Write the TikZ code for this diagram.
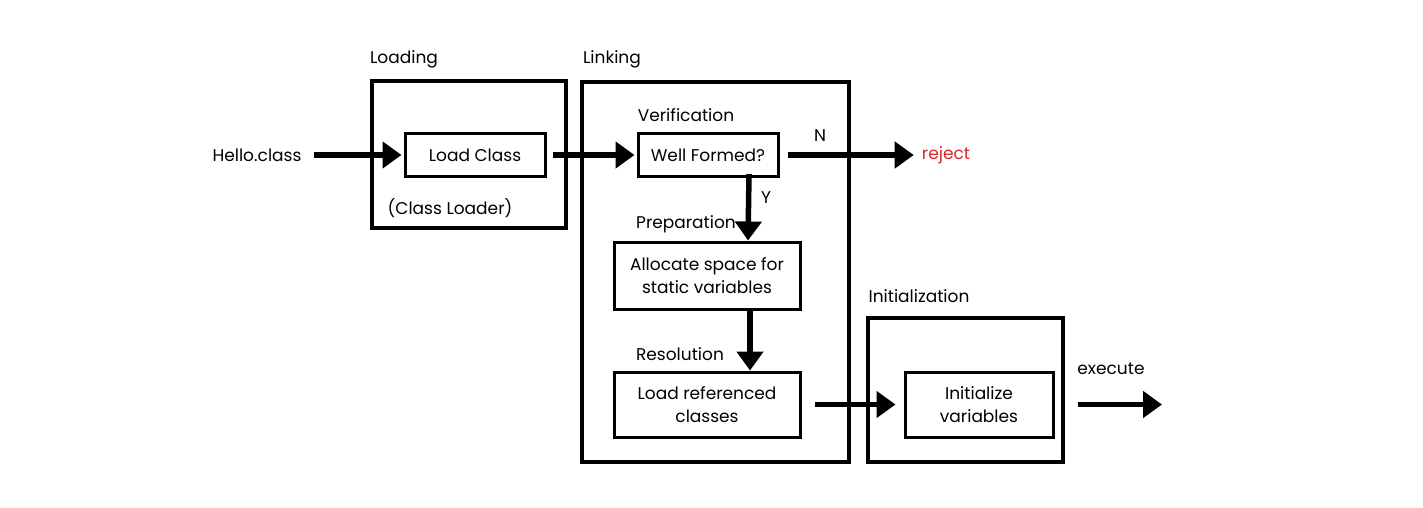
\documentclass[tikz,border=0pt]{standalone}
\usepackage{fontspec}
\setmainfont{Poppins}
\usetikzlibrary{arrows.meta}
\definecolor{rejred}{RGB}{215,40,40}
\begin{document}
\begin{tikzpicture}[x=1pt,y=-1pt,
  innerbox/.style={draw,line width=3pt,align=center,inner sep=0pt},
  lbl/.style={font=\fontsize{17}{20}\selectfont,inner sep=0pt},
  txt/.style={font=\fontsize{17}{23}\selectfont,align=center},
  flow/.style={line width=5.5pt,-{Triangle[length=19pt,width=26pt]}},
]
\useasboundingbox (0,0) rectangle (1423,507);
% outer boxes
\draw[line width=3.5pt] (372,81) rectangle (566,228);
\draw[line width=3.5pt] (582,82) rectangle (849,462);
\draw[line width=3.5pt] (868,318) rectangle (1063,462);
% stage labels
\node[lbl] (loading) at (404,59) {Loading};
\node[lbl] (linking) at (612,59) {Linking};
\node[lbl] (init) at (919,296) {Initialization};
\node[lbl] (verif) at (686,115) {Verification};
\node[lbl] (prep) at (686,224) {Preparation};
\node[lbl] (resol) at (680,354) {Resolution};
\node[lbl] (classloader) at (450,208) {(Class Loader)};
% inner boxes
\node[innerbox,minimum width=140pt,minimum height=43pt,txt] (load) at (475,155) {Load Class};
\node[innerbox,minimum width=140pt,minimum height=43pt,txt] (well) at (708,155) {Well Formed?};
\node[innerbox,minimum width=186pt,minimum height=67pt,txt] (alloc) at (707,275.5) {Allocate space for\\static variables};
\node[innerbox,minimum width=186pt,minimum height=65pt,txt] (lref) at (707,404.5) {Load referenced\\classes};
\node[innerbox,minimum width=148pt,minimum height=65pt,txt] (initv) at (979,404.5) {Initialize\\variables};
% free texts
\node[lbl] (hello) at (257,155) {Hello.class};
\node[lbl,text=rejred] (reject) at (946,155) {reject};
\node[lbl] (exec) at (1111,369) {execute};
\node[lbl] (N) at (820,136) {N};
\node[lbl] (Y) at (766,198) {Y};
\coordinate (execend) at (1162,404.5);
% connectors
\draw[flow] ([xshift=12pt]hello.east) -- ([xshift=-2pt]load.west);
\draw[flow] ([xshift=6pt]load.east) -- ([xshift=-2pt]well.west);
\draw[flow] ([xshift=8pt]well.east) -- ([xshift=-8pt]reject.west);
\draw[flow] ([xshift=41pt,yshift=4pt]well.south) -- ([xshift=41pt]alloc.north);
\draw[flow] ([xshift=43pt,yshift=2pt]alloc.south) -- ([xshift=43pt]lref.north);
\draw[flow] ([xshift=13pt]lref.east) -- ([xshift=-8pt]initv.west);
\draw[flow] ([xshift=23pt]initv.east) -- (execend);
\end{tikzpicture}
\end{document}
